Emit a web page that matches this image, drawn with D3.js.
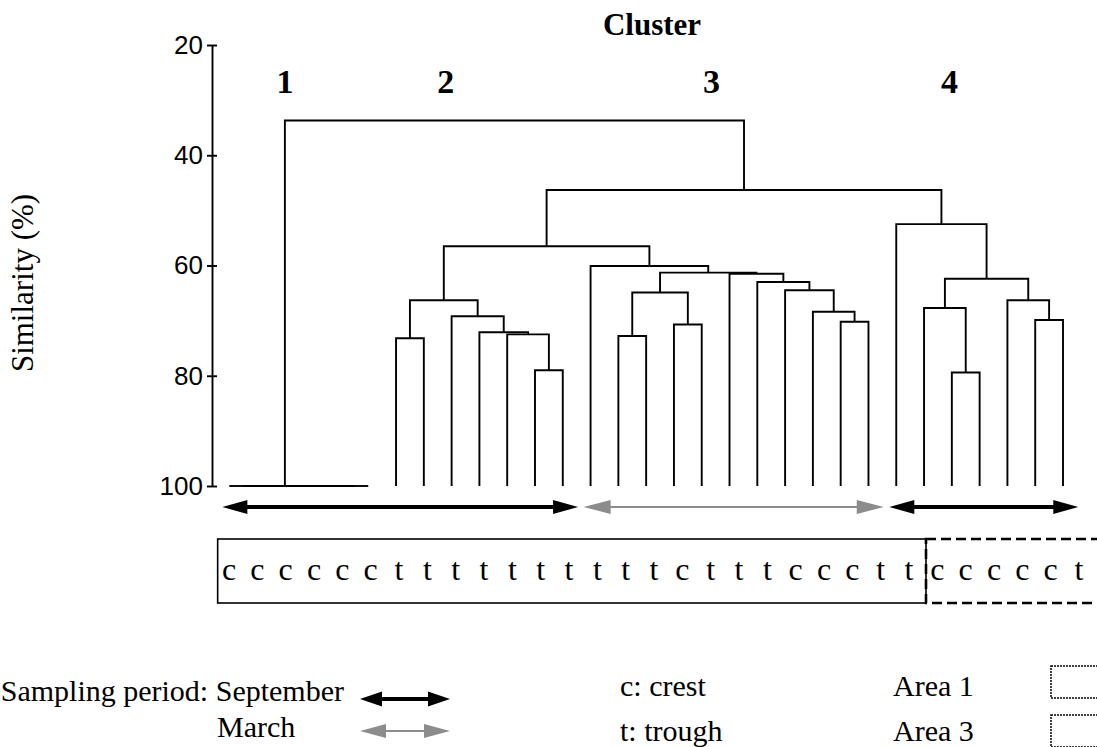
<!DOCTYPE html>
<html>
<head>
    <meta charset="utf-8" />
    <title>Cluster dendrogram</title>
    <script src="https://cdn.jsdelivr.net/npm/d3@7"></script>
    <style>
        body { margin:0; background:#fff; }
        svg { display:block; }
        .SERIF { font-family:"Liberation Serif","Times New Roman",serif; fill:#000; }
        .SANS { font-family:"Liberation Sans",Arial,sans-serif; }
    </style>
</head>
<body>
    <svg id="CHART" width="1097" height="747"></svg>
    <script>
        /* sample type of every leaf, left to right (c = crest, t = trough) */
        var leafType = ["c","c","c","c","c","c","t","t","t","t","t","t","t","t","t","t",
                        "c","t","t","t","c","c","c","t","t","c","c","c","c","c","t"];

        /* merge table, hclust style: negative = leaf number, positive = earlier merge row (1-based) */
        var mergeA   = [-1,-3,-5,2,1,-7,-12,-11,-10,-9,6,-15,-17,12,-23,-22,-21,-20,-19,14,-14,11,-27,-26,-30,-29,24,-25,22,5];
        var mergeB   = [-2,-4,-6,3,4,-8,-13,7,8,9,10,-16,-18,13,-24,15,16,17,18,19,20,21,-28,23,-31,25,26,27,28,29];
        var mergeSim = [100,100,100,100,100,73.2,79.0,72.5,72.1,69.2,66.3,72.8,70.7,64.9,70.2,68.4,64.5,63.0,61.5,61.3,60.1,
                        56.5,79.4,67.7,69.9,66.3,62.4,52.5,46.3,33.7];

        var clusterName  = ["1","2","3","4"];
        var clusterMerge = [5,11,21,28];

        var periodName  = ["September","March","September"];
        var periodFirst = [0,13,24];
        var periodLast  = [12,23,30];

        var areaName  = ["Area 1","Area 3"];
        var areaFirst = [0,25];
        var areaLast  = [24,30];

        var typeCode = ["c","t"];
        var typeName = ["crest","trough"];

        var simTicks = [20,40,60,80,100];

        /************************ SCALES ************************/
        var svg = d3.select("#CHART");
        var nLeaf = leafType.length;

        var x = d3.scaleLinear().domain([0, nLeaf - 1]).range([229.3, 1063]);   // dendrogram leaves
        var lx = d3.scaleLinear().domain([0, nLeaf - 1]).range([229, 1079]);    // typed label row
        var y = d3.scaleLinear().domain([20, 100]).range([45, 486]);

        var periodColor = { "September": "#000", "March": "#8c8c8c" };

        /************************ TREE ************************/
        function build(ref) {
            if (ref < 0) return { leaf: -ref - 1, sim: 100 };
            var m = ref - 1;
            return { merge: ref, sim: mergeSim[m], children: [build(mergeA[m]), build(mergeB[m])] };
        }
        var root = d3.hierarchy(build(mergeA.length));
        root.eachAfter(function (n) {
            n.x = n.children ? d3.mean(n.children, function (c) { return c.x; }) : x(n.data.leaf);
            n.y = y(n.data.sim);
        });

        svg.append("g")
            .attr("fill", "none").attr("stroke", "#000").attr("stroke-width", 1.9)
            .selectAll("path")
            .data(root.descendants().filter(function (n) { return n.children; }))
            .join("path")
            .attr("d", function (n) {
                var a = n.children[0], b = n.children[1];
                return "M" + a.x + "," + a.y + "V" + n.y + "H" + b.x + "V" + b.y;
            });

        /************************ AXIS ************************/
        var gy = svg.append("g")
            .attr("transform", "translate(212,0)")
            .call(d3.axisLeft(y).tickValues(simTicks).tickSize(5).tickSizeOuter(0).tickPadding(4));
        gy.select(".domain").attr("stroke-width", 1.9);
        gy.selectAll(".tick line").attr("x1", 5).attr("stroke-width", 1.9);
        gy.selectAll(".tick text").attr("class", "SANS").attr("font-size", 26).attr("fill", "#000");

        svg.append("text").attr("class", "SERIF")
            .attr("transform", "translate(33,283) rotate(-90)")
            .attr("text-anchor", "middle").attr("font-size", 31)
            .text("Similarity (%)");

        /************************ CLUSTER LABELS ************************/
        svg.append("text").attr("class", "SERIF")
            .attr("x", 652).attr("y", 35).attr("text-anchor", "middle")
            .attr("font-size", 31).attr("font-weight", "bold")
            .text("Cluster");

        var byMerge = {};
        root.each(function (n) { if (n.data.merge) byMerge[n.data.merge] = n; });
        var labelNudge = [0, 2, 62, 8];
        svg.append("g").selectAll("text")
            .data(clusterName)
            .join("text").attr("class", "SERIF")
            .attr("x", function (d, i) { return byMerge[clusterMerge[i]].x + labelNudge[i]; })
            .attr("y", 93).attr("text-anchor", "middle")
            .attr("font-size", 34).attr("font-weight", "bold")
            .text(function (d) { return d; });

        /************************ ARROWS ************************/
        function arrow(g, x1, x2, yy, color, sw, hl, hw) {
            g.append("line")
                .attr("x1", x1 + hl * 0.7).attr("x2", x2 - hl * 0.7)
                .attr("y1", yy).attr("y2", yy)
                .attr("stroke", color).attr("stroke-width", sw);
            g.append("path").attr("fill", color)
                .attr("d", "M" + x1 + "," + yy + "L" + (x1 + hl) + "," + (yy - hw) + "L" + (x1 + hl) + "," + (yy + hw) + "Z" +
                           "M" + x2 + "," + yy + "L" + (x2 - hl) + "," + (yy - hw) + "L" + (x2 - hl) + "," + (yy + hw) + "Z");
        }

        var ga = svg.append("g");
        periodName.forEach(function (p, i) {
            var black = p === "September";
            arrow(ga, x(periodFirst[i] - 0.25), x(periodLast[i] + 0.55), 507,
                  periodColor[p], black ? 4 : 2.2, black ? 25 : 27, 7);
        });

        /************************ LABEL ROW ************************/
        var areaLeft = areaFirst.map(function (f) { return lx(f - 0.4); });
        var gb = svg.append("g").attr("fill", "none").attr("stroke", "#000");
        areaName.forEach(function (a, i) {
            var x0 = areaLeft[i];
            var x1 = i + 1 < areaName.length ? areaLeft[i + 1] : lx(areaLast[i] + 0.9);
            var r = gb.append("rect")
                .attr("x", x0).attr("y", 539).attr("width", x1 - x0).attr("height", 64);
            if (i === 0) r.attr("stroke-width", 1.6);
            else r.attr("stroke-width", 2.6).attr("stroke-dasharray", "10,5");
        });

        svg.append("g").selectAll("text")
            .data(leafType)
            .join("text").attr("class", "SERIF")
            .attr("x", function (d, i) { return lx(i); })
            .attr("y", 580).attr("text-anchor", "middle").attr("font-size", 32)
            .text(function (d) { return d; });

        /************************ LEGEND ************************/
        var gl = svg.append("g").attr("class", "SERIF").attr("font-size", 30);
        gl.append("text").attr("x", 344).attr("y", 701).attr("text-anchor", "end")
            .text("Sampling period: " + periodName[0]);
        gl.append("text").attr("x", 217).attr("y", 737).text(periodName[1]);
        arrow(gl, 360, 450, 699, periodColor[periodName[0]], 4, 22, 7.5);
        arrow(gl, 360, 450, 731, periodColor[periodName[1]], 2.2, 26, 7);

        typeCode.forEach(function (c, i) {
            gl.append("text").attr("x", 620).attr("y", 696 + i * 45).text(c + ": " + typeName[i]);
        });
        areaName.forEach(function (a, i) {
            gl.append("text").attr("x", 893).attr("y", 696 + i * 45).text(a);
            gl.append("rect")
                .attr("x", 1051).attr("y", 666 + i * 49).attr("width", 60).attr("height", 32)
                .attr("fill", "none").attr("stroke", "#000").attr("stroke-width", 1.5)
                .attr("stroke-dasharray", "2,1");
        });
    </script>
</body>
</html>
